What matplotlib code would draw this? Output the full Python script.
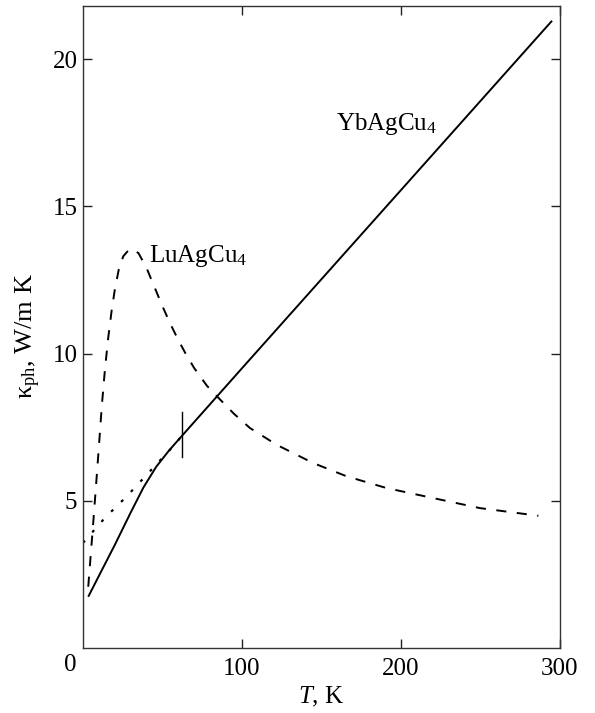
import matplotlib
matplotlib.use("Agg")
import matplotlib.pyplot as plt

plt.rcParams["font.family"] = ["Liberation Serif", "DejaVu Serif"]
plt.rcParams["mathtext.fontset"] = "custom"
plt.rcParams["mathtext.rm"] = "Liberation Serif"
plt.rcParams["mathtext.it"] = "Liberation Serif:italic"
plt.rcParams["mathtext.bf"] = "Liberation Serif:bold"

# YbAgCu4, phonon thermal conductivity (solid)
T_yb = [3.3, 10, 20, 30, 38, 46, 54, 62, 100, 200, 295]
k_yb = [1.74, 2.45, 3.5, 4.6, 5.45, 6.15, 6.7, 7.19, 9.5, 15.55, 21.3]

# Low-temperature extrapolation for YbAgCu4 (dotted)
T_ext = [0, 13.8, 27.5, 42.1, 54.7, 62]
k_ext = [3.57, 4.42, 5.15, 6.0, 6.73, 7.19]

# LuAgCu4, phonon thermal conductivity (dashed)
T_lu = [3.3, 6.5, 9.0, 11.8, 13.8, 15.9, 18.0, 20.1, 22.5, 25.3, 28.5, 31.6,
        35.0, 40.0, 45.0, 50.0, 55.0, 60.0, 65.0, 70.0, 78.0, 85.1, 95.0,
        105.0, 121.8, 144.8, 165.8, 191.0, 220.3, 249.7, 286.4]
k_lu = [2.08, 4.3, 6.1, 8.2, 9.46, 10.55, 11.45, 12.2, 12.85, 13.3, 13.5,
        13.55, 13.4, 12.9, 12.25, 11.6, 11.0, 10.45, 9.95, 9.5, 8.9, 8.5,
        7.95, 7.47, 6.9, 6.28, 5.83, 5.43, 5.09, 4.75, 4.49]

# Vertical marker on the YbAgCu4 curve
T_mark = 62
k_mark = [6.5, 8.0]

x_ticks = [100, 200, 300]
y_ticks = [5, 10, 15, 20]

W, H = 595, 713
fig = plt.figure(figsize=(W / 100, H / 100), dpi=100)
ax = fig.add_axes([83 / W, 1 - 648 / H, (560 - 83) / W, (648 - 6) / H])

ax.plot(T_yb, k_yb, color="black", lw=1.4, solid_capstyle="butt")
ax.plot(T_ext, k_ext, color="black", lw=1.6, linestyle=(0, (1.3, 5.0)))
ax.plot(T_lu, k_lu, color="black", lw=1.4, linestyle=(0, (5.2, 5.4)))
ax.plot([T_mark, T_mark], k_mark, color="black", lw=1.0)

ax.set_xlim(0, 300)
ax.set_ylim(0, 21.8)
ax.set_xticks(x_ticks)
ax.set_yticks(y_ticks)
ax.tick_params(direction="in", length=6.5, width=1.0, labelsize=18,
               top=True, right=True, color="#222222")
ax.tick_params(axis="x", pad=7)
ax.tick_params(axis="y", pad=4)
for s in ax.spines.values():
    s.set_linewidth(1.0)
    s.set_color("#333333")

# shared origin label
fig.text(70 / W, 1 - 665 / H, "0", fontsize=18, ha="center", va="center")

fig.text(336 / W, 1 - 130 / H, "YbAgCu$_4$", fontsize=18, ha="left",
         va="baseline")
fig.text(149 / W, 1 - 262 / H, "LuAgCu$_4$", fontsize=18, ha="left",
         va="baseline")

fig.text(321 / W, 1 - 697 / H, "$T$, K", fontsize=18, ha="center",
         va="center")
fig.text(28 / W, 1 - 336 / H, r"$\mathrm{κ_{ph}}$, W/m K", fontsize=19,
         ha="center", va="center", rotation=90)

fig.savefig("out.png", dpi=100)
